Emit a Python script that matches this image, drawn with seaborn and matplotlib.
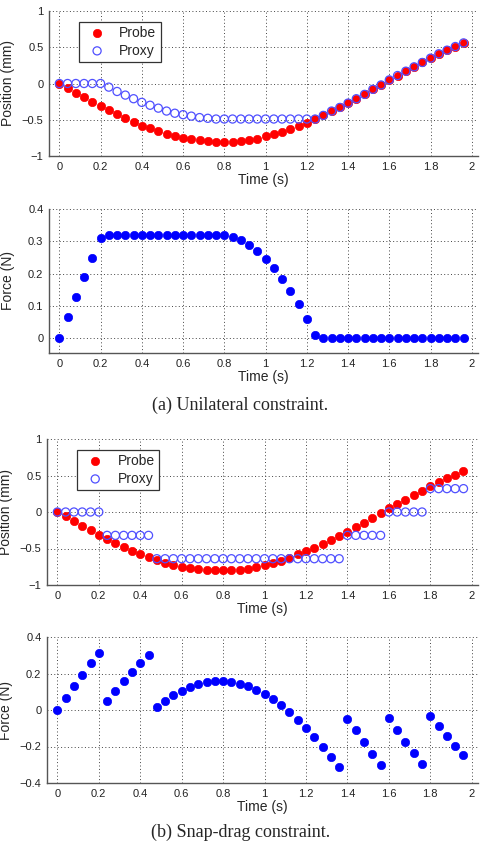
import numpy as np
import pandas as pd
import seaborn as sns
import matplotlib.pyplot as plt

sns.set_style("white")
plt.rcParams['font.family'] = ['Liberation Sans', 'DejaVu Sans']

time_s = [round(0.04 * i, 2) for i in range(50)]

probe_pos = [0.0, -0.06, -0.13, -0.19, -0.25, -0.31, -0.37, -0.42, -0.48, -0.53,
             -0.58, -0.62, -0.66, -0.70, -0.72, -0.75, -0.77, -0.78, -0.79, -0.80,
             -0.80, -0.80, -0.79, -0.78, -0.76, -0.73, -0.70, -0.67, -0.63, -0.58,
             -0.54, -0.49, -0.44, -0.38, -0.33, -0.27, -0.21, -0.15, -0.08, -0.02,
             0.05, 0.11, 0.17, 0.23, 0.29, 0.35, 0.41, 0.46, 0.51, 0.56]

proxy_pos_a = [0.0, 0.0, 0.0, 0.0, 0.0, 0.0, -0.05, -0.11, -0.16, -0.21,
               -0.26, -0.30, -0.34, -0.38, -0.41, -0.43, -0.45, -0.47, -0.48, -0.49,
               -0.49, -0.49, -0.49, -0.49, -0.49, -0.49, -0.49, -0.49, -0.49, -0.49,
               -0.49, -0.49, -0.44, -0.38, -0.33, -0.27, -0.21, -0.15, -0.08, -0.02,
               0.05, 0.11, 0.17, 0.23, 0.29, 0.35, 0.41, 0.46, 0.51, 0.56]

force_a = [0.0, 0.065, 0.128, 0.19, 0.25, 0.31, 0.32, 0.32, 0.32, 0.32,
           0.32, 0.32, 0.32, 0.32, 0.32, 0.32, 0.32, 0.32, 0.32, 0.32,
           0.32, 0.315, 0.305, 0.29, 0.27, 0.245, 0.218, 0.183, 0.147, 0.106,
           0.061, 0.012, 0.0, 0.0, 0.0, 0.0, 0.0, 0.0, 0.0, 0.0,
           0.0, 0.0, 0.0, 0.0, 0.0, 0.0, 0.0, 0.0, 0.0, 0.0]

proxy_pos_b = [0.0] * 6 + [-0.32] * 6 + [-0.64] * 23 + [-0.32] * 5 + [0.0] * 5 + [0.32] * 5

force_b = [0.0, 0.065, 0.13, 0.19, 0.255, 0.31, 0.05, 0.105, 0.16, 0.21,
           0.255, 0.30, 0.015, 0.05, 0.08, 0.105, 0.125, 0.145, 0.155, 0.16,
           0.16, 0.155, 0.145, 0.13, 0.11, 0.09, 0.06, 0.025, -0.01, -0.055,
           -0.10, -0.15, -0.20, -0.255, -0.31, -0.05, -0.11, -0.175, -0.24, -0.30,
           -0.045, -0.11, -0.175, -0.235, -0.295, -0.035, -0.09, -0.145, -0.195, -0.245]

x_ticks = [0, 0.2, 0.4, 0.6, 0.8, 1, 1.2, 1.4, 1.6, 1.8, 2]
x_ticklabels = ['0', '0.2', '0.4', '0.6', '0.8', '1', '1.2', '1.4', '1.6', '1.8', '2']

df_a = pd.DataFrame({'t': time_s, 'probe': probe_pos, 'proxy': proxy_pos_a, 'force': force_a})
df_b = pd.DataFrame({'t': time_s, 'probe': probe_pos, 'proxy': proxy_pos_b, 'force': force_b})

fig = plt.figure(figsize=(4.81, 8.52), dpi=100)
W, H = 481, 852


def make_ax(left, top, right, bottom):
    return fig.add_axes([left / W, 1 - bottom / H, (right - left) / W, (bottom - top) / H])


def style_ax(ax, ylim, yticks, ylabel):
    ax.set_xlim(-0.05, 2.03)
    ax.set_ylim(*ylim)
    ax.set_xticks(x_ticks)
    ax.set_xticklabels(x_ticklabels)
    ax.set_yticks(yticks)
    ax.set_yticklabels([('%g' % v).replace('-', '\u2212') for v in yticks])
    ax.grid(True, linestyle=(0, (1, 2.5)), color='#444444', linewidth=0.7)
    ax.set_axisbelow(True)
    for s in ['top', 'right']:
        ax.spines[s].set_visible(False)
    for s in ['left', 'bottom']:
        ax.spines[s].set_color('#555555')
        ax.spines[s].set_linewidth(1.0)
    ax.tick_params(direction='in', length=3, labelsize=8, colors='#222222', pad=4)
    ax.set_xlabel('Time (s)', fontsize=10, labelpad=1)
    ax.set_ylabel(ylabel, fontsize=10)
    ax.yaxis.set_label_coords(-0.08, 0.5)


def position_plot(ax, df):
    sns.scatterplot(data=df, x='t', y='probe', ax=ax, color='red', edgecolor='red',
                    s=36, linewidth=0.5, label='Probe', zorder=3)
    sns.scatterplot(data=df, x='t', y='proxy', ax=ax, facecolor='none', edgecolor='#5050ff',
                    s=34, linewidth=0.9, label='Proxy', zorder=4)
    style_ax(ax, (-1, 1), [-1, -0.5, 0, 0.5, 1], 'Position (mm)')
    leg = ax.legend(loc='upper left', bbox_to_anchor=(0.07, 0.925), fontsize=10,
                    frameon=True, fancybox=False, edgecolor='#333333', framealpha=1,
                    borderpad=0.3, handletextpad=0.6, labelspacing=0.25, borderaxespad=0)
    leg.get_frame().set_linewidth(0.9)


def force_plot(ax, df, ylim, yticks):
    sns.scatterplot(data=df, x='t', y='force', ax=ax, color='blue', edgecolor='blue',
                    s=36, linewidth=0.5, zorder=3)
    style_ax(ax, ylim, yticks, 'Force (N)')


ax1 = make_ax(49, 11, 478, 156)
position_plot(ax1, df_a)

ax2 = make_ax(49, 209, 478, 353)
force_plot(ax2, df_a, (-0.045, 0.4), [0, 0.1, 0.2, 0.3, 0.4])

fig.text(0.5, 1 - 405 / H, '(a) Unilateral constraint.', ha='center', va='center',
         fontsize=13, family='Liberation Serif')

ax3 = make_ax(47, 439, 478, 585)
position_plot(ax3, df_b)

ax4 = make_ax(47, 637, 478, 783)
force_plot(ax4, df_b, (-0.4, 0.4), [-0.4, -0.2, 0, 0.2, 0.4])

fig.text(0.5, 1 - 832 / H, '(b) Snap-drag constraint.', ha='center', va='center',
         fontsize=13, family='Liberation Serif')

fig.savefig('out.png', dpi=100)
